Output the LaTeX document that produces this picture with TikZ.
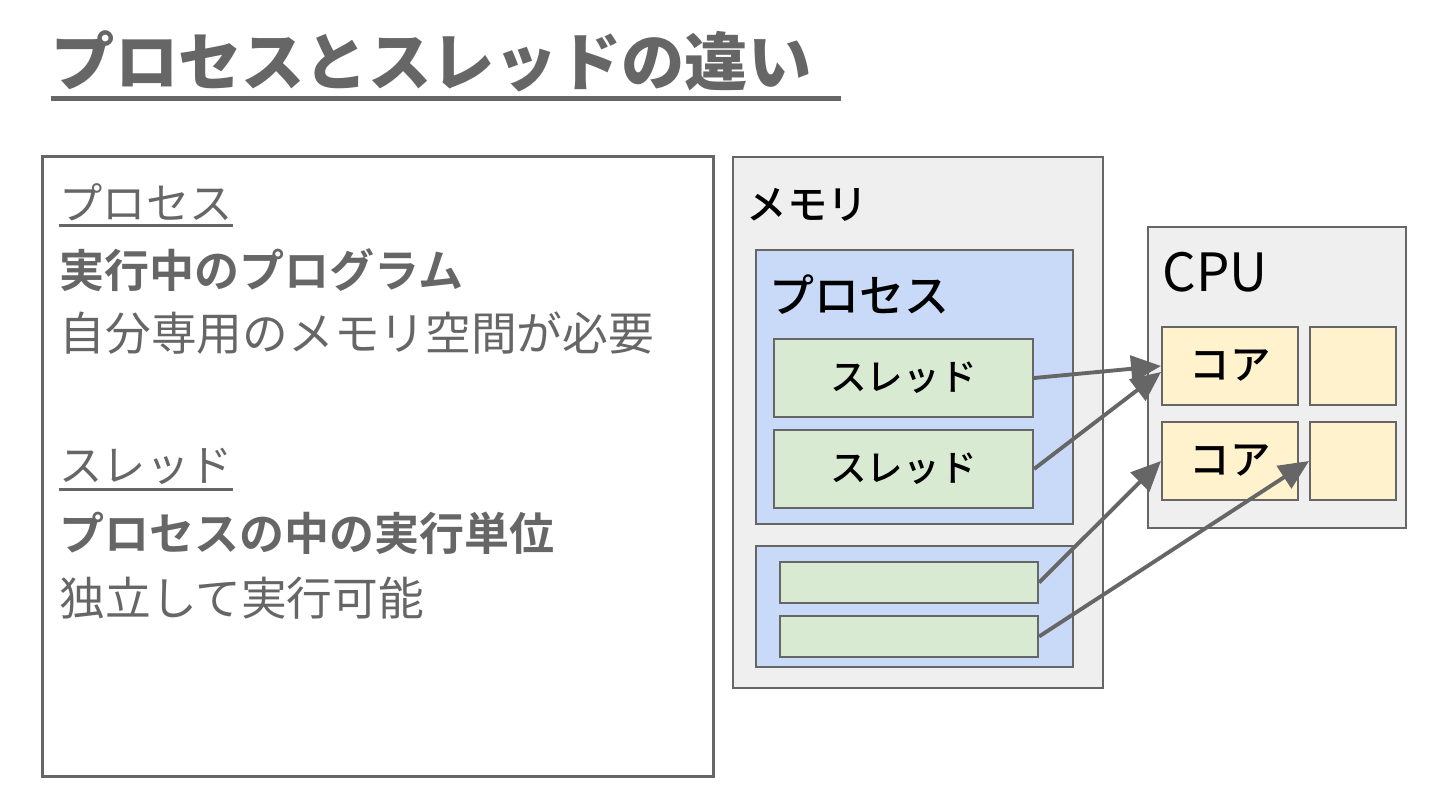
\documentclass[tikz,border=0pt]{standalone}
\usepackage{fontspec}
\setmainfont{Noto Sans CJK JP}[BoldFont={Noto Sans CJK JP Bold}]
\newfontfamily\jpmed{Noto Sans CJK JP Medium}
\newfontfamily\jpblack{Noto Sans CJK JP Black}
\usetikzlibrary{arrows.meta,positioning}
\definecolor{txtgray}{RGB}{102,102,102}
\definecolor{linegray}{RGB}{102,102,102}
\definecolor{memcol}{RGB}{239,239,239}
\definecolor{proccol}{RGB}{201,218,248}
\definecolor{thrcol}{RGB}{217,234,211}
\definecolor{corecol}{RGB}{255,242,204}
\newcommand{\setfs}[1]{\fontsize{#1}{#1}\selectfont}
\tikzset{
  % plain box with thin gray border
  box/.style={rectangle, draw=linegray, line width=0.55pt, inner sep=0pt},
  % memory / cpu container
  membox/.style={box, fill=memcol},
  % process box
  procbox/.style={box, fill=proccol, minimum width=3.17cm},
  % thread box (with label)
  thrbox/.style={box, fill=thrcol, minimum width=2.59cm, minimum height=0.78cm, font=\jpmed\setfs{10.4pt}},
  % small thread box (no label)
  sthrbox/.style={box, fill=thrcol, minimum width=2.58cm, minimum height=0.41cm},
  % cpu core
  corebox/.style={box, fill=corecol, minimum height=0.78cm, font=\jpmed\setfs{11.5pt}},
  % text line, left aligned
  lbl/.style={anchor=west, inner sep=0pt},
  % underline
  uline/.style={draw=txtgray, line width=0.85pt},
  % thread -> core arrow
  link/.style={-{Triangle[length=8.5pt,width=7.5pt]}, draw=linegray, line width=1.1pt},
}
\begin{document}
\begin{tikzpicture}[x=0.01cm, y=-0.01cm]
  \fill[white] (0,0) rectangle (1440,810);
  \useasboundingbox (0,0) rectangle (1440,810);

  % title
  \node[lbl, font=\jpblack\setfs{18pt}, text=txtgray] (title) at (51,61) {プロセスとスレッドの違い\hspace{0.45em}\null};
  \draw[uline, line width=1.4pt] ([yshift=-1.8pt]title.south west) -- ([yshift=-1.8pt]title.south east);

  % left panel
  \node[draw=linegray, line width=0.9pt, minimum width=6.70cm, minimum height=6.19cm, inner sep=0pt] (panel) at (378,466.5) {};
  \begin{scope}[every node/.style={lbl, text=txtgray}]
    \node[font=\setfs{12.3pt}] (hproc) at (59,202) {プロセス};
    \node[font=\setfs{12.8pt}\bfseries] (dproc) at (59,270) {実行中のプログラム};
    \node[font=\setfs{13pt}] (nproc) at (59,333) {自分専用のメモリ空間が必要};
    \node[font=\setfs{12.3pt}] (hthr) at (59,466) {スレッド};
    \node[font=\setfs{12.8pt}\bfseries] (dthr) at (59,533) {プロセスの中の実行単位};
    \node[font=\setfs{13pt}] (nthr) at (59,598) {独立して実行可能};
  \end{scope}
  \draw[uline] ([yshift=-1.2pt]hproc.south west) -- ([yshift=-1.2pt]hproc.south east);
  \draw[uline] ([yshift=-1.2pt]hthr.south west) -- ([yshift=-1.2pt]hthr.south east);

  % memory
  \node[membox, minimum width=3.70cm, minimum height=5.31cm] (mem) at (918,422.5) {};
  \node[lbl, font=\jpmed\setfs{11.5pt}] (memlbl) at (746,205) {メモリ};
  \node[procbox, minimum height=2.74cm] (proc1) at (914.5,387) {};
  \node[lbl, font=\jpmed\setfs{12.8pt}] (proclbl) at (769,295) {プロセス};
  \node[thrbox] (t1) at (903.5,378) {スレッド};
  \node[thrbox] (t2) at (903.5,469) {スレッド};
  \node[procbox, minimum height=1.21cm] (proc2) at (914.5,606.5) {};
  \node[sthrbox] (s1) at (909,582.5) {};
  \node[sthrbox] (s2) at (909,636.5) {};

  % cpu
  \node[membox, minimum width=2.58cm, minimum height=3.01cm] (cpu) at (1277,377.5) {};
  \node[lbl, font=\setfs{15pt}] (cpulbl) at (1162,272) {CPU};
  \node[corebox, minimum width=1.36cm] (c1) at (1230,366) {コア};
  \node[corebox, minimum width=0.86cm] (c2) at (1353,366) {};
  \node[corebox, minimum width=1.36cm] (c3) at (1230,461) {コア};
  \node[corebox, minimum width=0.86cm] (c4) at (1353,461) {};

  % threads run on cores
  \draw[link] (t1.east) -- (c1.west);
  \draw[link] (t2.east) -- ([yshift=-0.06cm]c1.west);
  \draw[link] (s1.east) -- (c3.west);
  \draw[link] (s2.east) -- (c4.west);
\end{tikzpicture}
\end{document}
